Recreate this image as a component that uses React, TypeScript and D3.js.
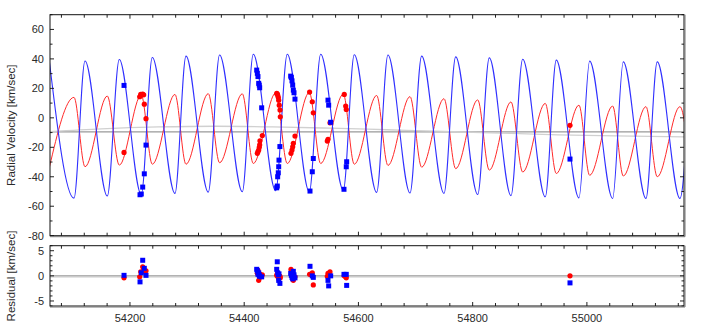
import * as d3 from 'd3';

// reference epochs (MJD) of the orbit extremes
const peakDays = [54059, 54121.3, 54181.3, 54239.1, 54298.1, 54356.9, 54415.9, 54475.4, 54533.9, 54592.7, 54651.7, 54710.7, 54770.3, 54829.1, 54887.6, 54946.4, 55004.8, 55063.7, 55123.2, 55182];
const troughDays = [54102.0, 54160.3, 54219.8, 54278.8, 54337.1, 54396.7, 54455.1, 54514.0, 54573.5, 54631.9, 54690.3, 54749.8, 54808.8, 54867.1, 54927.1, 54986.1, 55045.1, 55103.4, 55162.9];

// primary (blue) extremes
const bluePeaks = [38, 38.6, 39.6, 41, 41.9, 42.6, 43.2, 43.2, 43.2, 42.8, 42.6, 41.9, 41.4, 40.7, 39.8, 39.2, 38.5, 38, 38, 38];
const blueTroughs = [-54.5, -53, -52, -51.3, -50.4, -50.2, -49.5, -50.2, -49.1, -50.6, -51, -51.3, -52, -52.8, -53.6, -54.3, -54.7, -54.7, -54.7];
// secondary (red) extremes, anti-phase
const redTroughs = [-33.5, -33.2, -32.1, -31.5, -31.5, -30.5, -31, -31, -31, -31.5, -32.3, -33.5, -34.5, -35.5, -36.8, -37.8, -39, -39.5, -40, -40];
const redPeaks = [13.9, 14.8, 15.5, 15.9, 16.4, 16.3, 16.8, 17.2, 16.1, 15.2, 14.4, 13, 12.2, 10.8, 9.8, 8.6, 8, 7.6, 7.6];

// systemic velocity and its trend
const gammaFlat = -9.5;
const trendDays = [54060, 54150, 54250, 54350, 54450, 54550, 54650, 54750, 54850, 54950, 55050, 55170];
const trendVals = [-9.4, -7.5, -6.2, -5.7, -6.1, -7.0, -8.1, -9.2, -10.4, -11.5, -12.3, -12.9];

// observations
const blueObsDays = [54189.6, 54217.6, 54219.8, 54222.3, 54225.1, 54228.1, 54421.9, 54423.0, 54424.1, 54425.4, 54426.4, 54427.1, 54430.6, 54456.9, 54457.9, 54458.6, 54459.7, 54460.4, 54460.9, 54462.5, 54481.4, 54482.5, 54483.7, 54484.9, 54486, 54487.2, 54488.9, 54515.2, 54519.2, 54521, 54546.7, 54547.9, 54551.4, 54574.7, 54578.7, 54579.4, 54970.4];
const blueObsRV = [22, -52.2, -51.7, -47, -38, -18.5, 32.4, 30.2, 28, 23.4, 22.2, 20.4, 6.8, -47.5, -46.3, -40, -37.3, -33.2, -28.7, -19.5, 28.3, 27.4, 25.1, 22.2, 18.8, 17, 12.7, -49.7, -36.6, -27.6, 12, 8.6, -3, -48.5, -33.2, -29.8, -28];
const blueObsRes = [0.1, -1.2, 0.6, 3.1, 1.5, 0.1, 1.3, 1.0, 0.3, 0.6, 0.1, -0.1, -0.2, 1.3, 2.8, 0.6, 0.2, -0.9, 0.4, -1.5, 0.5, 0.1, -0.3, -0.6, 0.9, 0.2, -0.4, 1.9, 0.0, -0.3, -0.9, -2.0, 0.0, 0.3, 0.3, -1.9, -1.4];

const redObsDays = [54189.6, 54217.0, 54218.8, 54222.3, 54224.0, 54225.1, 54228.1, 54423.0, 54424.1, 54425.4, 54426.4, 54427.1, 54427.6, 54431.7, 54456.9, 54457.9, 54458.6, 54459.7, 54460.4, 54461.4, 54462.7, 54463.2, 54481.9, 54483.7, 54484.9, 54486, 54488.9, 54514.5, 54519.2, 54521, 54545.5, 54546.7, 54550.2, 54575.2, 54577.7, 54578.7, 54970.4];
const redObsRV = [-23.5, 14.3, 15.9, 16.1, 15.6, 9.3, -0.6, -24.1, -23, -21.9, -20, -18.3, -15.6, -12, 16.6, 16.3, 15.4, 13.9, 12, 8.6, 5.3, 0.7, -24.1, -21.9, -19.7, -17.3, -12.4, 17.5, 10.9, 3.4, -15.8, -14.6, -3.4, 15.9, 8, 5.7, -5.1];
const redObsRes = [-0.4, -0.2, 0.8, 1.8, 1.2, 0.8, 1.0, 0.5, 1.1, -0.9, 0.2, 0.4, -0.3, 0.2, 0.1, 0.4, -0.1, -0.3, -0.6, 0.0, -0.1, -0.4, 1.3, 0.3, -0.5, -0.9, -0.2, 0.3, 0.6, -1.8, -0.1, 0.5, 0.8, 0.0, -0.2, -0.4, 0.0];

const FONT = "'Liberation Sans', Arial, sans-serif";

const L = 50, R = 684;
const topY0 = 14.7, topY1 = 235.7;
const botY0 = 245.7, botY1 = 306;

function merge(aDays: number[], aVals: number[], bDays: number[], bVals: number[]) {
  const pts = aDays.map((d, i) => [d, aVals[i]] as [number, number])
    .concat(bDays.map((d, i) => [d, bVals[i]] as [number, number]));
  return pts.sort((p, q) => p[0] - q[0]);
}

export default function App() {
  const x = d3.scaleLinear().domain([54060, 55170]).range([L, R]);
  const y = d3.scaleLinear().domain([-80, 70]).range([topY1, topY0]);
  const yr = d3.scaleLinear().domain([-6, 6]).range([botY1, botY0]);

  const line = d3.line<[number, number]>()
    .x(d => x(d[0]))
    .y(d => y(d[1]))
    .curve(d3.curveMonotoneX);

  const bluePts = merge(peakDays, bluePeaks, troughDays, blueTroughs);
  const redPts = merge(peakDays, redTroughs, troughDays, redPeaks);
  const trendPts = trendDays.map((d, i) => [d, trendVals[i]] as [number, number]);

  const xTicks = d3.range(54080, 55170, 40);
  const yTicks = d3.range(-80, 71, 10);
  const rTicks = d3.range(-6, 7, 1);

  const axisText = { fontFamily: FONT, fontSize: 11, fill: '#2a2a2a' };

  return (
    <svg width={706} height={330} style={{ position: 'absolute', left: 0, top: 0, background: '#fff' }}>
      <defs>
        <clipPath id="clipTop">
          <rect x={L} y={topY0} width={R - L} height={topY1 - topY0} />
        </clipPath>
        <clipPath id="clipBot">
          <rect x={L} y={botY0} width={R - L} height={botY1 - botY0} />
        </clipPath>
      </defs>

      {/* top panel */}
      <g clipPath="url(#clipTop)">
        <line x1={L} x2={R} y1={y(gammaFlat)} y2={y(gammaFlat)} stroke="#999" strokeWidth={1.3} />
        <path d={line(trendPts) || ''} fill="none" stroke="#d0d0d0" strokeWidth={1.3} />
        <path d={line(redPts) || ''} fill="none" stroke="#ff2a2a" strokeWidth={1} />
        <path d={line(bluePts) || ''} fill="none" stroke="#3030ff" strokeWidth={1.1} />
        {redObsDays.map((d, i) => (
          <circle key={'r' + i} cx={x(d)} cy={y(redObsRV[i])} r={2.6} fill="#ff0000" />
        ))}
        {blueObsDays.map((d, i) => (
          <rect key={'b' + i} x={x(d) - 2.5} y={y(blueObsRV[i]) - 2.5} width={5} height={5} fill="#0000ff" />
        ))}
      </g>

      {/* bottom panel */}
      <g clipPath="url(#clipBot)">
        <line x1={L} x2={R} y1={yr(0) + 1.5} y2={yr(0) + 1.5} stroke="#e0e0e0" strokeWidth={1} />
        <line x1={L} x2={R} y1={yr(0)} y2={yr(0)} stroke="#999" strokeWidth={1.2} />
        {redObsDays.map((d, i) => (
          <circle key={'rr' + i} cx={x(d)} cy={yr(redObsRes[i])} r={2.6} fill="#ff0000" />
        ))}
        {blueObsDays.map((d, i) => (
          <rect key={'br' + i} x={x(d) - 2.5} y={yr(blueObsRes[i]) - 2.5} width={5} height={5} fill="#0000ff" />
        ))}
      </g>

      {/* ticks */}
      <g stroke="#222" strokeWidth={1}>
        {xTicks.map(t => {
          const len = t % 200 === 0 ? 4 : 3;
          const px = x(t);
          return (
            <g key={'xt' + t}>
              <line x1={px} x2={px} y1={topY0} y2={topY0 + len} />
              <line x1={px} x2={px} y1={topY1} y2={topY1 - len} />
              <line x1={px} x2={px} y1={botY0} y2={botY0 + len} />
              <line x1={px} x2={px} y1={botY1} y2={botY1 - len} />
            </g>
          );
        })}
        {yTicks.map(t => {
          const len = t % 20 === 0 ? 4 : 2.5;
          const py = y(t);
          return (
            <g key={'yt' + t}>
              <line x1={L} x2={L + len} y1={py} y2={py} />
              <line x1={R} x2={R - len} y1={py} y2={py} />
            </g>
          );
        })}
        {rTicks.map(t => {
          const len = t % 5 === 0 ? 4 : 2.5;
          const py = yr(t);
          return (
            <g key={'rt' + t}>
              <line x1={L} x2={L + len} y1={py} y2={py} />
              <line x1={R} x2={R - len} y1={py} y2={py} />
            </g>
          );
        })}
      </g>

      {/* frames */}
      <rect x={L} y={topY0} width={R - L} height={topY1 - topY0} fill="none" stroke="#111" strokeWidth={1} />
      <line x1={L} x2={R + 1} y1={topY1 + 1} y2={topY1 + 1} stroke="#777" strokeWidth={1} />
      <line x1={R + 1} x2={R + 1} y1={topY0} y2={topY1 + 1} stroke="#777" strokeWidth={1} />
      <rect x={L} y={botY0} width={R - L} height={botY1 - botY0} fill="none" stroke="#111" strokeWidth={1} />
      <line x1={L} x2={R + 1} y1={botY1 + 1} y2={botY1 + 1} stroke="#777" strokeWidth={1} />
      <line x1={R + 1} x2={R + 1} y1={botY0} y2={botY1 + 1} stroke="#777" strokeWidth={1} />

      {/* tick labels */}
      {d3.range(-80, 61, 20).map(t => (
        <text key={'yl' + t} x={L - 6} y={y(t)} dy="0.35em" textAnchor="end" {...axisText}>{t}</text>
      ))}
      {[-5, 0, 5].map(t => (
        <text key={'rl' + t} x={L - 6} y={yr(t)} dy="0.35em" textAnchor="end" {...axisText}>{t}</text>
      ))}
      {d3.range(54200, 55001, 200).map(t => (
        <text key={'xl' + t} x={x(t)} y={322} textAnchor="middle" {...axisText}>{t}</text>
      ))}

      {/* axis titles */}
      <text transform={`translate(15,${(topY0 + topY1) / 2}) rotate(-90)`} textAnchor="middle" {...axisText} fontSize={11.5}>
        Radial Velocity [km/sec]
      </text>
      <text transform={`translate(15,276) rotate(-90)`} textAnchor="middle" {...axisText} fontSize={11.5}>
        Residual [km/sec]
      </text>
    </svg>
  );
}
